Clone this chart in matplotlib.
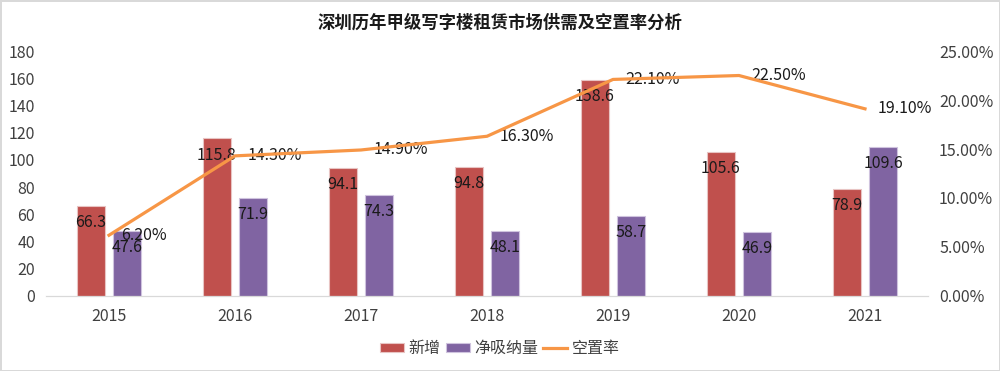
"""深圳历年甲级写字楼租赁市场供需及空置率分析 — bar + line combo chart."""

import matplotlib
matplotlib.use("agg")
import matplotlib.pyplot as plt
import numpy as np
from matplotlib.ticker import FuncFormatter

plt.rcParams["font.family"] = ["Noto Sans CJK SC", "DejaVu Sans"]

years = ["2015", "2016", "2017", "2018", "2019", "2020", "2021"]
new_supply = [66.3, 115.8, 94.1, 94.8, 158.6, 105.6, 78.9]
net_absorption = [47.6, 71.9, 74.3, 48.1, 58.7, 46.9, 109.6]
vacancy = [6.2, 14.3, 14.9, 16.3, 22.1, 22.5, 19.1]

RED = "#C0504D"
PURPLE = "#8064A2"
ORANGE = "#F79646"
TICK = "#404040"
FS = 11.5

fig = plt.figure(figsize=(10, 3.71), dpi=100, edgecolor="#d9d9d9", linewidth=2)
ax = fig.add_axes([0.046, 0.2022, 0.882, 0.6603])
ax2 = ax.twinx()

x = np.arange(len(years))
w = 0.222
off = 0.143

b1 = ax.bar(x - off, new_supply, w, color=RED, edgecolor="#e8c4c3", linewidth=0.8,
            label="新增", zorder=2)
b2 = ax.bar(x + off, net_absorption, w, color=PURPLE, edgecolor="#cfc3de", linewidth=0.8,
            label="净吸纳量", zorder=2)

for bars, vals in ((b1, new_supply), (b2, net_absorption)):
    for rect, v in zip(bars, vals):
        ax.annotate(f"{v:.1f}", (rect.get_x() + rect.get_width() / 2, v),
                    xytext=(0, -12), textcoords="offset points",
                    ha="center", va="center", fontsize=FS, color="#1a1a1a", zorder=3)

ax.set_xlim(-0.5, len(years) - 0.5)
ax.set_ylim(0, 180)
ax.set_yticks(np.arange(0, 181, 20))
ax.set_xticks(x)
ax.set_xticklabels(years)

(line,) = ax2.plot(x, vacancy, color=ORANGE, linewidth=2.3, label="空置率", zorder=4)
for xi, v in zip(x, vacancy):
    ax2.annotate(f"{v:.2f}%", (xi, v), xytext=(9, 0), textcoords="offset points",
                 ha="left", va="center", fontsize=FS, color="#1a1a1a")
ax2.set_ylim(0, 25)
ax2.set_yticks(np.arange(0, 25.1, 5))
ax2.yaxis.set_major_formatter(FuncFormatter(lambda v, _: f"{v:.2f}%"))

for a in (ax, ax2):
    for s in ("top", "left", "right"):
        a.spines[s].set_visible(False)
    a.spines["bottom"].set_color("#d9d9d9")
    a.tick_params(length=0, labelsize=FS, labelcolor=TICK)
ax.tick_params(axis="x", pad=9)
ax.tick_params(axis="y", pad=8)
ax2.tick_params(axis="y", pad=8)

fig.text(0.5, 0.94, "深圳历年甲级写字楼租赁市场供需及空置率分析", ha="center", va="center",
         fontsize=12.5, fontweight="bold", color="#1a1a1a")

handles = [b1, b2, line]
fig.legend(handles, [h.get_label() for h in handles], loc="center", ncol=3,
           bbox_to_anchor=(0.5, 0.06), frameon=False, fontsize=FS,
           handlelength=1.5, handleheight=0.55, handletextpad=0.3, columnspacing=0.3,
           labelcolor=TICK)

fig.savefig("out.png", dpi=100)
plt.close(fig)
